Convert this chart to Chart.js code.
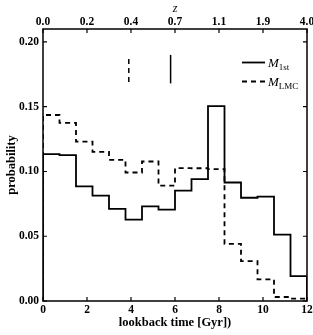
<!DOCTYPE html>
<html>
<head>
<meta charset="utf-8">
<script src="https://cdn.jsdelivr.net/npm/chart.js@4.4.1/dist/chart.umd.min.js"></script>
<style>
  html, body { margin: 0; padding: 0; background: #fff; }
  #wrap { width: 313px; height: 335px; }
</style>
</head>
<body>
<div id="wrap"><canvas id="chart" width="313" height="335"></canvas></div>
<script>
// lookback time bins (Gyr), 0.75 Gyr wide
var binEdges = [0, 0.75, 1.5, 2.25, 3, 3.75, 4.5, 5.25, 6, 6.75, 7.5, 8.25, 9, 9.75, 10.5, 11.25, 12];
var prob1st = [0.1134, 0.1126, 0.0885, 0.0813, 0.0711, 0.0628, 0.0731, 0.0706, 0.0852, 0.0941, 0.1505, 0.0915, 0.0797, 0.0806, 0.0513, 0.0192];
var probLMC = [0.1436, 0.1375, 0.1231, 0.1152, 0.1090, 0.0992, 0.1077, 0.0890, 0.1026, 0.1025, 0.1018, 0.0441, 0.0308, 0.0167, 0.0031, 0.0018];
// short vertical markers: [lookback time, bottom, top]
var mark1st = [5.8, 0.168, 0.190];
var markLMC = [3.9, 0.169, 0.187];
var timeTicks = [0, 2, 4, 6, 8, 10, 12];
var zLabels = ['0.0', '0.2', '0.4', '0.7', '1.1', '1.9', '4.0'];
var probTicks = [0, 0.05, 0.10, 0.15, 0.20];

var serif = "'Liberation Serif', 'DejaVu Serif', serif";

// histogram outline as step points
function stepPoints(vals) {
  var last = binEdges[binEdges.length - 1];
  var pts = [{ x: binEdges[0], y: 0 }];
  for (var i = 0; i < vals.length; i++) {
    pts.push({ x: binEdges[i], y: vals[i] });
  }
  pts.push({ x: last, y: vals[vals.length - 1] });
  pts.push({ x: last, y: 0 });
  return pts;
}

function markPoints(m) {
  return [{ x: m[0], y: m[1] }, { x: m[0], y: m[2] }];
}

// frame, inward ticks and the legend
var frameAndTicks = {
  id: 'frameAndTicks',
  afterDraw: function (chart) {
    var ctx = chart.ctx;
    var a = chart.chartArea;
    var xs = chart.scales.x;
    var ys = chart.scales.y;
    ctx.save();
    ctx.strokeStyle = '#000';
    ctx.lineWidth = 1.5;
    ctx.strokeRect(a.left, a.top, a.right - a.left, a.bottom - a.top);

    ctx.lineWidth = 1.2;
    ctx.beginPath();
    timeTicks.forEach(function (t) {
      var px = xs.getPixelForValue(t);
      ctx.moveTo(px, a.bottom); ctx.lineTo(px, a.bottom - 4);
      ctx.moveTo(px, a.top); ctx.lineTo(px, a.top + 4);
    });
    probTicks.forEach(function (p) {
      var py = ys.getPixelForValue(p);
      ctx.moveTo(a.left, py); ctx.lineTo(a.left + 4, py);
      ctx.moveTo(a.right, py); ctx.lineTo(a.right - 4, py);
    });
    ctx.stroke();

    // legend
    var lx0 = a.right - 65, lx1 = a.right - 42;
    var rows = [
      { y: a.top + 33.5, dash: [], sub: '1st' },
      { y: a.top + 52.5, dash: [5, 4], sub: 'LMC' }
    ];
    rows.forEach(function (r) {
      ctx.lineWidth = 1.8;
      ctx.setLineDash(r.dash);
      ctx.beginPath();
      ctx.moveTo(lx0, r.y);
      ctx.lineTo(lx1, r.y);
      ctx.stroke();
      ctx.setLineDash([]);
      ctx.fillStyle = '#000';
      ctx.textBaseline = 'alphabetic';
      ctx.textAlign = 'left';
      ctx.font = 'italic 13px ' + serif;
      ctx.fillText('M', lx1 + 3, r.y + 4);
      var mw = ctx.measureText('M').width;
      ctx.font = '9px ' + serif;
      ctx.fillText(r.sub, lx1 + 3 + mw, r.y + 7);
    });
    ctx.restore();
  }
};

var tickFont = { family: serif, size: 11.5, weight: 'bold' };
var titleFont = { family: serif, size: 12.5, weight: 'bold' };

function noSidePad(s) {
  s.paddingLeft = 0;
  s.paddingRight = 0;
}

new Chart(document.getElementById('chart').getContext('2d'), {
  type: 'line',
  data: {
    datasets: [
      {
        label: 'M_1st',
        data: stepPoints(prob1st),
        stepped: true,
        borderColor: '#000',
        borderWidth: 1.8,
        pointRadius: 0,
        fill: false
      },
      {
        label: 'M_LMC',
        data: stepPoints(probLMC),
        stepped: true,
        borderColor: '#000',
        borderDash: [5, 4],
        borderWidth: 1.8,
        pointRadius: 0,
        fill: false
      },
      {
        label: 'mark 1st',
        data: markPoints(mark1st),
        borderColor: '#000',
        borderWidth: 1.5,
        pointRadius: 0
      },
      {
        label: 'mark LMC',
        data: markPoints(markLMC),
        borderColor: '#000',
        borderDash: [5, 4],
        borderWidth: 1.5,
        pointRadius: 0
      }
    ]
  },
  options: {
    responsive: false,
    animation: false,
    layout: { padding: { left: 0, right: 6, top: 0, bottom: 0 } },
    plugins: { legend: { display: false }, tooltip: { enabled: false } },
    scales: {
      x: {
        type: 'linear',
        position: 'bottom',
        min: 0,
        max: 12,
        afterBuildTicks: function (s) { s.ticks = timeTicks.map(function (v) { return { value: v }; }); },
        afterFit: function (s) { s.height = 34; noSidePad(s); },
        grid: { display: false, drawTicks: false },
        border: { display: false },
        ticks: { font: tickFont, color: '#000', padding: 2, maxRotation: 0 },
        title: { display: true, text: 'lookback time [Gyr])', font: titleFont, color: '#000', padding: { top: 0, bottom: 5 } }
      },
      x2: {
        type: 'linear',
        position: 'top',
        min: 0,
        max: 12,
        afterBuildTicks: function (s) { s.ticks = timeTicks.map(function (v) { return { value: v }; }); },
        afterFit: function (s) { s.height = 29; noSidePad(s); },
        grid: { display: false, drawTicks: false },
        border: { display: false },
        ticks: {
          font: tickFont, color: '#000', padding: 0, maxRotation: 0,
          callback: function (v) { return zLabels[timeTicks.indexOf(v)]; }
        },
        title: { display: true, text: 'z', font: { family: serif, size: 12, style: 'italic' }, color: '#000', padding: { top: 2, bottom: 0 } }
      },
      y: {
        min: 0,
        max: 0.21,
        afterBuildTicks: function (s) { s.ticks = probTicks.map(function (v) { return { value: v }; }); },
        afterFit: function (s) { s.width = 43; },
        grid: { display: false, drawTicks: false },
        border: { display: false },
        ticks: {
          font: tickFont, color: '#000', padding: 4,
          callback: function (v) { return v.toFixed(2); }
        },
        title: { display: true, text: 'probability', font: titleFont, color: '#000', padding: { top: 4, bottom: 0 } }
      }
    }
  },
  plugins: [frameAndTicks]
});
</script>
</body>
</html>
